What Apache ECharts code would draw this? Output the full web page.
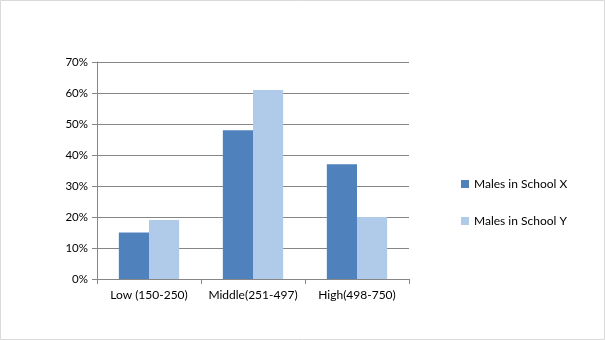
<!DOCTYPE html>
<html>
<head>
<meta charset="utf-8">
<script src="https://cdn.jsdelivr.net/npm/echarts@6/dist/echarts.min.js"></script>
<style>
html,body{margin:0;padding:0;background:#fff;}
#chart{width:605px;height:340px;}
</style>
</head>
<body>
<div id="chart"></div>
<script>
const categories = ['Low (150-250)', 'Middle(251-497)', 'High(498-750)'];
const seriesNames = ['Males in School X', 'Males in School Y'];
const schoolX = [15, 48, 37];
const schoolY = [19, 61, 20];
const yTicks = [0, 10, 20, 30, 40, 50, 60, 70];

const chart = echarts.init(document.getElementById('chart'));
const font = 'Lato, "Open Sans", sans-serif';
chart.setOption({
  animation: false,
  backgroundColor: '#fff',
  textStyle: {fontFamily: font},
  graphic: [{
    type: 'rect', shape: {x: 0.5, y: 0.5, width: 604, height: 339},
    style: {fill: 'none', stroke: '#d9d9d9', lineWidth: 1}, silent: true
  }],
  grid: {left: 97, top: 62, width: 312, height: 217, containLabel: false},
  legend: {
    orient: 'vertical', left: 461, top: 177, padding: 0,
    itemWidth: 8, itemHeight: 8, itemGap: 23,
    icon: 'rect',
    textStyle: {fontSize: 12, color: '#000', fontFamily: font, lineHeight: 14},
    data: seriesNames
  },
  xAxis: {
    type: 'category', data: categories,
    axisLine: {lineStyle: {color: '#868686', width: 1}},
    axisTick: {show: true, length: 5, lineStyle: {color: '#868686'}},
    axisLabel: {fontSize: 12, color: '#000', margin: 10, fontFamily: font, interval: 0, hideOverlap: false},
    splitLine: {show: false}
  },
  yAxis: {
    type: 'value', min: yTicks[0], max: yTicks[yTicks.length - 1], interval: 10,
    axisLine: {show: true, lineStyle: {color: '#868686', width: 1}},
    axisTick: {show: true, length: 5, lineStyle: {color: '#868686'}},
    axisLabel: {fontSize: 11.5, color: '#000', margin: 9, fontFamily: font, formatter: v => v + '%'},
    splitLine: {show: true, lineStyle: {color: '#868686', width: 1}}
  },
  series: [
    {name: seriesNames[0], type: 'bar', data: schoolX, barGap: '0%', barCategoryGap: '42%', itemStyle: {color: '#4f81bd'}},
    {name: seriesNames[1], type: 'bar', data: schoolY, barGap: '0%', barCategoryGap: '42%', itemStyle: {color: '#b0cbea'}}
  ]
});
</script>
</body>
</html>
